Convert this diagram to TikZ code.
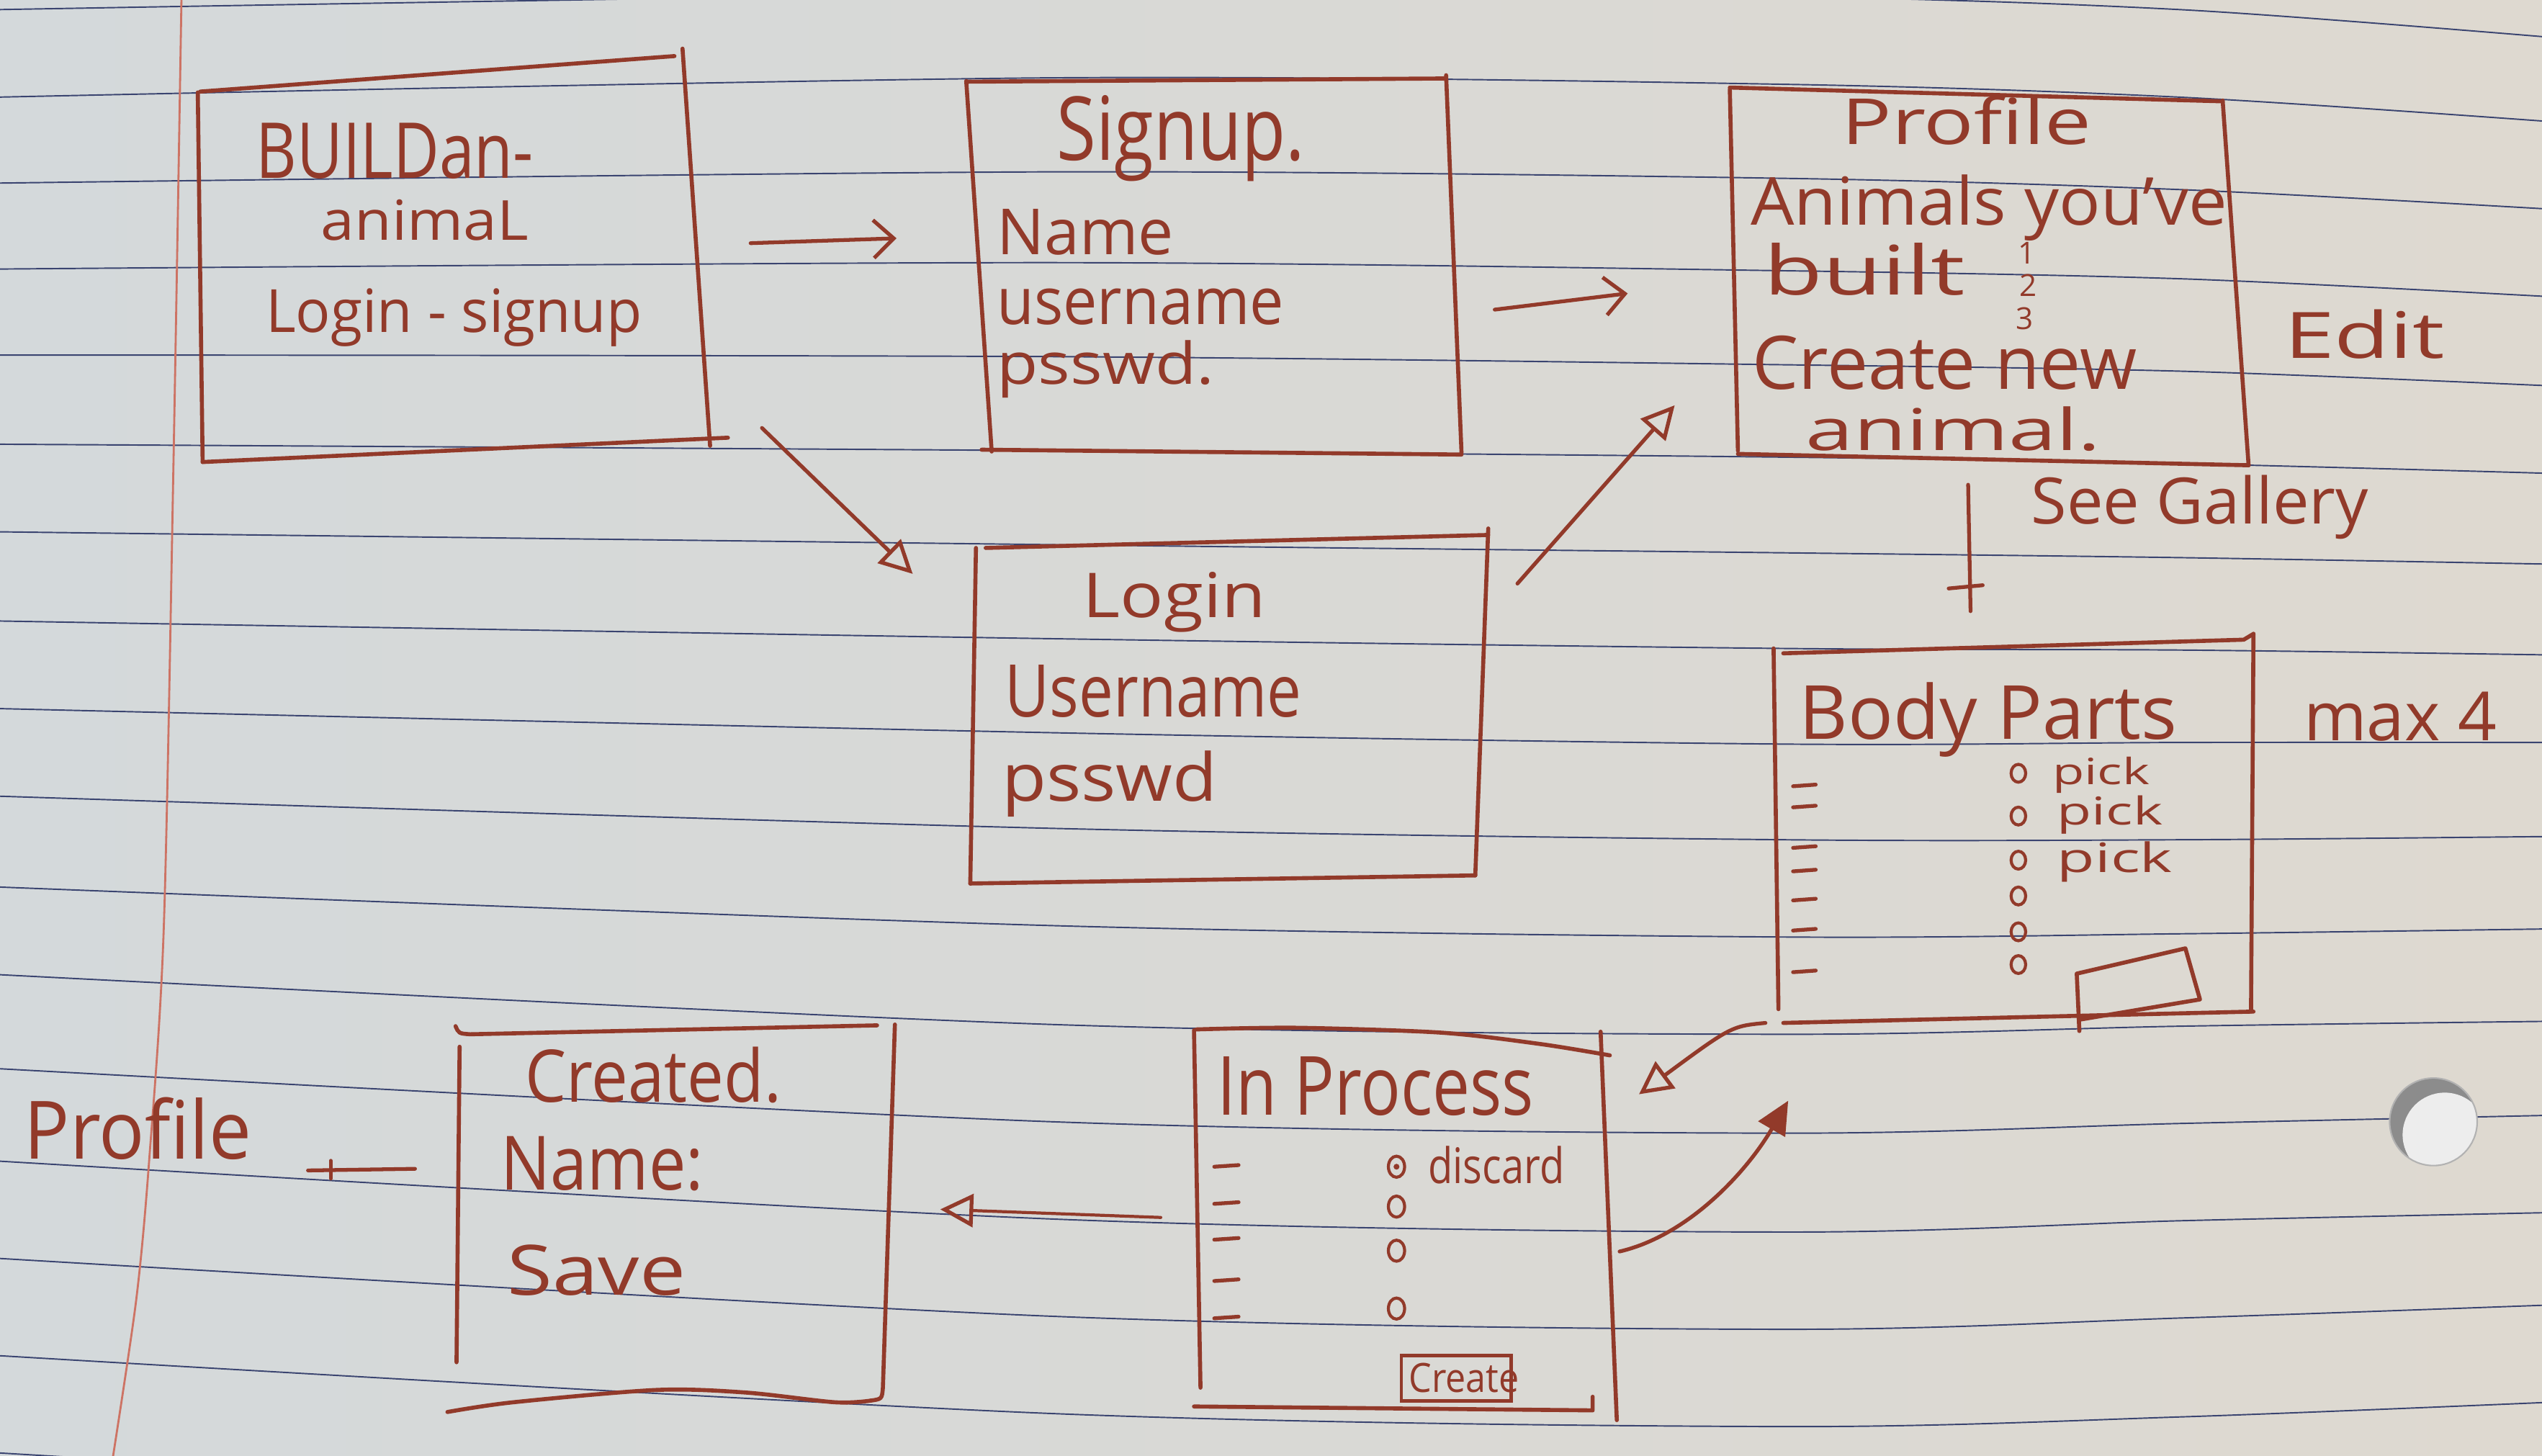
\documentclass[tikz,border=0pt]{standalone}
\usepackage{fontspec}
\setmainfont{Open Sans}
\usetikzlibrary{arrows.meta}
\definecolor{ink}{RGB}{146,58,42}
\definecolor{rulecol}{RGB}{58,68,112}
\definecolor{margincol}{RGB}{205,115,100}
\definecolor{paperL}{RGB}{212,217,219}
\definecolor{paperR}{RGB}{222,217,208}
\newlength\px
\setlength\px{0.022513cm}
% hand lettering: text fitted to a width and a height above the baseline (sketch units)
\newcommand\hw[3]{\resizebox{#1\px}{#2\px}{#3}}
\tikzset{
  sketchbox/.style={draw=ink, line width=1.6pt, line cap=round, line join=round},
  conn/.style={draw=ink, line width=1.5pt, line cap=round, line join=round},
  fine/.style={draw=ink, line width=1.2pt, line cap=round},
  hand/.style={text=ink, inner sep=0pt, outer sep=0pt, anchor=base west},
  ruled/.style={draw=rulecol, line width=0.55pt},
  marginline/.style={draw=margincol, line width=0.8pt},
  openhead/.style={-{Triangle[open, length=13pt, width=13pt, line width=1.5pt]}},
  fullhead/.style={-{Triangle[length=13pt, width=12pt]}},
  barbhead/.style={-{Straight Barb[length=8pt, width=15pt, line width=1.5pt]}},
}
\begin{document}
\begin{tikzpicture}[x=0.022513cm, y=-0.022513cm]
\useasboundingbox (0,0) rectangle (1568,898);

% ---- notebook paper ----
\shade[left color=paperL, right color=paperR] (0,0) rectangle (1568,898);
\foreach \a/\b/\c/\d/\e in {6/-4/-2/6/23, 60/48/52/60/75, 113/106/110/117/129,
    166/162/167/172/183, 219/220/225/229/238, 274/278/282/286/292,
    328/336/341/344/348, 383/394/400/401/404, 437/452/459/458/458,
    491/511/518/518/516, 547/571/578/576/573, 601/632/638/633/630,
    659/692/699/693/688, 716/752/760/753/748, 776/812/820/813/805,
    836/872/880/874/865, 896/932/940/934/925}
  \draw[ruled] plot[smooth] coordinates {(-5,\a) (650,\b) (1100,\c) (1346,\d) (1573,\e)};
\draw[marginline] plot[smooth] coordinates {(112,-5) (107,286) (101,573) (92,716) (84,802) (69,903)};
% punched hole
\begin{scope}
  \clip (1501,692) circle[radius=27];
  \fill[black!45] (1501,692) circle[radius=27];
  \fill[black!7] (1508,700) circle[radius=26];
\end{scope}
\draw[black!30, line width=0.6pt] (1501,692) circle[radius=27];

% ---- Build-an-animal ----
\draw[sketchbox] (123.5,56.5) -- (416,34.6);
\draw[sketchbox] (421,30) -- (438,275);
\draw[sketchbox] (125,285) -- (449,270);
\draw[sketchbox] (122,57) -- (125,285);
\node[hand] (build1) at (158,110) {\hw{171}{34}{BUILDan-}};
\node[hand] (build2) at (198,148) {\hw{128}{25}{animaL}};
\node[hand] (build3) at (164,205) {\hw{232}{27}{Login - signup}};

% ---- Signup ----
\draw[sketchbox] (596,50.4) -- (892,48.4);
\draw[sketchbox] (596,50) -- (611.7,278.5);
\draw[sketchbox] (892,46.4) -- (901.5,279.4);
\draw[sketchbox] (605.5,277.4) -- (901.5,280.4);
\node[hand] (sign1) at (652,99) {\hw{153}{40}{Signup.}};
\node[hand] (sign2) at (615,157) {\hw{109}{28}{Name}};
\node[hand] (sign3) at (615,200) {\hw{177}{22}{username}};
\node[hand] (sign4) at (615,237) {\hw{134}{27}{psswd.}};

% ---- Profile ----
\draw[sketchbox] (1067,54) -- (1371,62.5);
\draw[sketchbox] (1067,55) -- (1072,278);
\draw[sketchbox] (1371,62) -- (1387,287);
\draw[sketchbox] (1072,280) -- (1387,287);
\node[hand] (prof1) at (1136,89) {\hw{154}{30}{Profile}};
\node[hand] (prof2) at (1080,139) {\hw{294}{31}{Animals you've}};
\node[hand] (prof3) at (1088,182) {\hw{124}{32}{built}};
\node[hand, anchor=base, font=\fontsize{12}{12}\selectfont] (num1) at (1250,163) {1};
\node[hand, anchor=base, font=\fontsize{12}{12}\selectfont] (num2) at (1251,183) {2};
\node[hand, anchor=base, font=\fontsize{12}{12}\selectfont] (num3) at (1249,203) {3};
\node[hand] (prof4) at (1081,240) {\hw{237}{33}{Create new}};
\node[hand] (prof5) at (1114,278) {\hw{182}{27}{animal.}};
\node[hand] (edit) at (1409,221) {\hw{99}{30}{Edit}};
\node[hand] (gallery) at (1253,323) {\hw{208}{30}{See Gallery}};

% ---- Login ----
\draw[sketchbox] (608,338) -- (918,330);
\draw[sketchbox] (918,326) -- (910,540);
\draw[sketchbox] (602,338) -- (598.5,545);
\draw[sketchbox] (598.5,545) -- (910,540);
\node[hand] (log1) at (668,381) {\hw{113}{28}{Login}};
\node[hand] (log2) at (620,442) {\hw{183}{32}{Username}};
\node[hand] (log3) at (618,494) {\hw{133}{31}{psswd}};

% ---- Body Parts ----
\draw[sketchbox] (1100,403) -- (1384,394.6) -- (1390,391);
\draw[sketchbox] (1390,391) -- (1388.5,624);
\draw[sketchbox] (1094,400) -- (1097,622.5);
\draw[sketchbox] (1100,631) -- (1390,624);
\node[hand] (bp1) at (1110,456) {\hw{233}{35}{Body Parts}};
\node[hand] (max) at (1421,457) {\hw{119}{30}{max 4}};
\foreach \y in {485,498,523,537.5,555.4,574,599.7}
  \draw[fine, line width=1.5pt] (1106,\y) -- (1120,\y-1);
\foreach \y in {477,503.4,530.6,552.7,574.8,595}
  \draw[fine] (1245,\y) ellipse [x radius=4.5, y radius=5.5];
\node[hand] (pick1) at (1266,484) {\hw{60}{17}{pick}};
\node[hand] (pick2) at (1269,509) {\hw{65}{18}{pick}};
\node[hand] (pick3) at (1269,538) {\hw{71}{19}{pick}};
\draw[sketchbox] (1282.6,636) -- (1281,600.6) -- (1348,585) -- (1357,616.5) -- (1282.6,629);

% ---- In Process ----
\draw[sketchbox] plot[smooth] coordinates {(738,635) (800,634) (889,637) (950,644) (993,651)};
\draw[sketchbox] (736.5,635.5) -- (740.5,856);
\draw[sketchbox] (987.3,636.4) -- (997.3,876);
\draw[sketchbox] (736.5,867.6) -- (982.4,870) -- (982.4,861.6);
\node[hand] (ip1) at (751,688) {\hw{195}{36}{In Process}};
\foreach \y in {719.7,742.6,764.7,790.2,813.2}
  \draw[fine, line width=1.5pt] (749,\y) -- (764,\y-1);
\foreach \y in {719.7,744.3,771.5,807.2}
  \draw[fine] (861.4,\y) ellipse [x radius=5, y radius=6.5];
\fill[ink] (861.4,719.7) circle[radius=1.8];
\node[hand] (discard) at (881,730) {\hw{84}{23}{discard}};
\draw[fine, line width=1.4pt] (864.4,836) rectangle (932,864);
\node[hand] (createbtn) at (869,859) {\hw{68}{18}{Create}};

% ---- Created ----
\draw[sketchbox] (281,633) .. controls (283,637.5) .. (290,638) -- (541,632.5);
\draw[sketchbox] (283.5,645.7) -- (281.6,840.3);
\draw[sketchbox] (552,632) -- (544.6,856) .. controls (544,863) .. (537,864);
\draw[sketchbox] plot[smooth] coordinates {(276,871) (316.6,865) (405,857.4) (460,859) (515,865) (537,864)};
\node[hand] (cr1) at (324,680) {\hw{158}{34}{Created.}};
\node[hand] (cr2) at (309,734) {\hw{125}{33}{Name:}};
\node[hand] (cr3) at (313,799) {\hw{110}{31}{Save}};
\node[hand] (profback) at (15,715) {\hw{140}{38}{Profile}};

% ---- connectors ----
\coordinate (a1s) at (463,150);   \coordinate (a1e) at (553,147);
\coordinate (a2s) at (922,191);   \coordinate (a2e) at (1004,181);
\coordinate (a3s) at (470,264);   \coordinate (a3e) at (563,354);
\coordinate (a4s) at (936,360);   \coordinate (a4e) at (1033,250);
\coordinate (a5s) at (1214,299);  \coordinate (a5e) at (1215.5,377);
\coordinate (a5l) at (1202,363);  \coordinate (a5r) at (1223,361);
\coordinate (a6s) at (1089,631);  \coordinate (a6e) at (1011,675);
\coordinate (a7s) at (999,772);   \coordinate (a7e) at (1103,679);
\coordinate (a8s) at (716,751);   \coordinate (a8e) at (580,746);
\coordinate (a9s) at (256,721);   \coordinate (a9e) at (190,722);
\coordinate (a9t) at (204,716);   \coordinate (a9b) at (204,727);

\draw[conn, barbhead] (a1s) -- (a1e);
\draw[conn, barbhead] (a2s) -- (a2e);
\draw[conn, openhead] (a3s) -- (a3e);
\draw[conn, openhead] (a4s) -- (a4e);
\draw[conn] (a5s) -- (a5e);
\draw[conn] (a5l) -- (a5r);
\draw[conn, openhead] (a6s) .. controls (1068,633) .. (a6e);
\draw[conn, fullhead] (a7s) .. controls (1042,762) and (1078,722) .. (a7e);
\draw[conn, openhead, line width=1.2pt] (a8s) -- (a8e);
\draw[conn] (a9s) -- (a9e);
\draw[conn] (a9t) -- (a9b);
\end{tikzpicture}
\end{document}
